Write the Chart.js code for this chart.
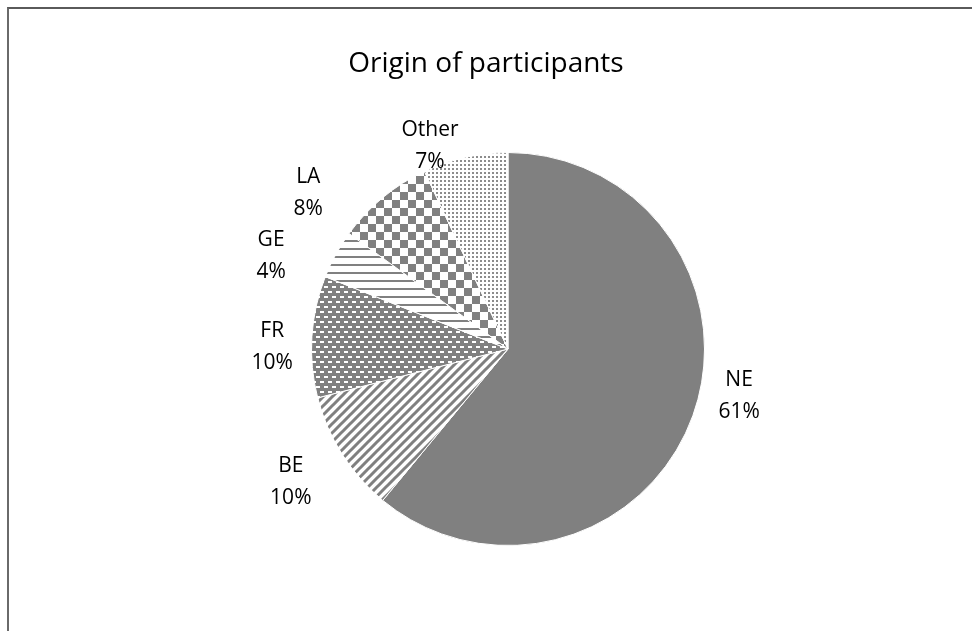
<!DOCTYPE html>
<html><head><meta charset="utf-8">
<script src="https://cdn.jsdelivr.net/npm/chart.js@4"></script>
<style>
html,body{margin:0;padding:0;background:#fff;overflow:hidden}
#wrap{position:relative;width:972px;height:631px;overflow:hidden}
#frame{position:absolute;left:7px;top:7px;width:1100px;height:800px;border-top:2px solid #5a5a5a;border-left:2px solid #6a6a6a}
canvas{position:absolute;left:0;top:0}
</style></head><body>
<div id="wrap"><div id="frame"></div><canvas id="c" width="972" height="631"></canvas></div>
<script>
const titleText = 'Origin of participants';
const categories = ['NE', 'BE', 'FR', 'GE', 'LA', 'Other'];
const shares = [61, 10, 10, 4, 8, 7];

const GRAY = '#808080';
function makePattern(w, h, draw) {
  const c = document.createElement('canvas');
  c.width = w; c.height = h;
  const x = c.getContext('2d');
  x.fillStyle = '#fff'; x.fillRect(0, 0, w, h);
  draw(x, w, h);
  return x.createPattern(c, 'repeat');
}
const patDiag = makePattern(9, 9, (x) => {
  x.strokeStyle = GRAY; x.lineWidth = 3;
  x.beginPath();
  x.moveTo(-2, 11); x.lineTo(11, -2);
  x.moveTo(-7, 7); x.lineTo(7, -7);
  x.moveTo(2, 16); x.lineTo(16, 2);
  x.stroke();
});
const patDash = makePattern(8, 10, (x) => {
  x.fillStyle = GRAY; x.fillRect(0, 0, 8, 10);
  x.fillStyle = '#fff';
  x.fillRect(0, 1, 4, 2);
  x.fillRect(4, 6, 4, 2);
});
const patHorz = makePattern(8, 8, (x) => {
  x.fillStyle = GRAY; x.fillRect(0, 0, 8, 2);
});
const patCheck = makePattern(16, 16, (x) => {
  x.fillStyle = GRAY; x.fillRect(0, 0, 8, 8); x.fillRect(8, 8, 8, 8);
});
const patDots = makePattern(4, 4, (x) => {
  x.fillStyle = '#8c8c8c'; x.fillRect(0, 0, 2, 2);
});
const fills = [GRAY, patDiag, patDash, patHorz, patCheck, patDots];

const FONT = '"Open Sans", "DejaVu Sans", sans-serif';

const titlePlugin = {
  id: 'ownTitle',
  afterDraw(chart) {
    const ctx = chart.ctx;
    ctx.save();
    ctx.font = '28px ' + FONT;
    ctx.fillStyle = '#000';
    ctx.textAlign = 'center';
    ctx.textBaseline = 'middle';
    ctx.fillText(titleText, chart.width / 2, 64);
    ctx.restore();
  }
};

const labelPlugin = {
  id: 'sliceLabels',
  afterDatasetsDraw(chart) {
    // angle shift (deg) from slice middle and distance as multiple of radius
    const place = [[-8.3, 1.2], [1, 1.295], [-3.1, 1.2], [-7.4, 1.295], [-12.4, 1.29], [-8.4, 1.107]];
    const ctx = chart.ctx;
    const meta = chart.getDatasetMeta(0);
    const total = shares.reduce((a, b) => a + b, 0);
    ctx.save();
    ctx.font = '21px ' + FONT;
    ctx.fillStyle = '#000';
    ctx.textAlign = 'center';
    ctx.textBaseline = 'middle';
    meta.data.forEach((arc, i) => {
      const p = arc.getProps(['x', 'y', 'startAngle', 'endAngle', 'outerRadius'], true);
      const a = (p.startAngle + p.endAngle) / 2 + place[i][0] * Math.PI / 180;
      const d = p.outerRadius * place[i][1];
      const cx = p.x + Math.cos(a) * d;
      const cy = p.y + Math.sin(a) * d;
      ctx.fillText(categories[i], cx, cy - 16);
      ctx.fillText(Math.round(shares[i] / total * 100) + '%', cx, cy + 16);
    });
    ctx.restore();
  }
};

new Chart(document.getElementById('c'), {
  type: 'pie',
  data: {
    labels: categories,
    datasets: [{
      data: shares,
      backgroundColor: fills,
      borderColor: '#fff',
      borderWidth: 1
    }]
  },
  options: {
    responsive: false,
    animation: false,
    layout: { padding: { left: 311, right: 267, top: 152, bottom: 85 } },
    plugins: {
      legend: { display: false },
      tooltip: { enabled: false },
      title: { display: false }
    }
  },
  plugins: [labelPlugin, titlePlugin]
});
</script>
</body></html>
